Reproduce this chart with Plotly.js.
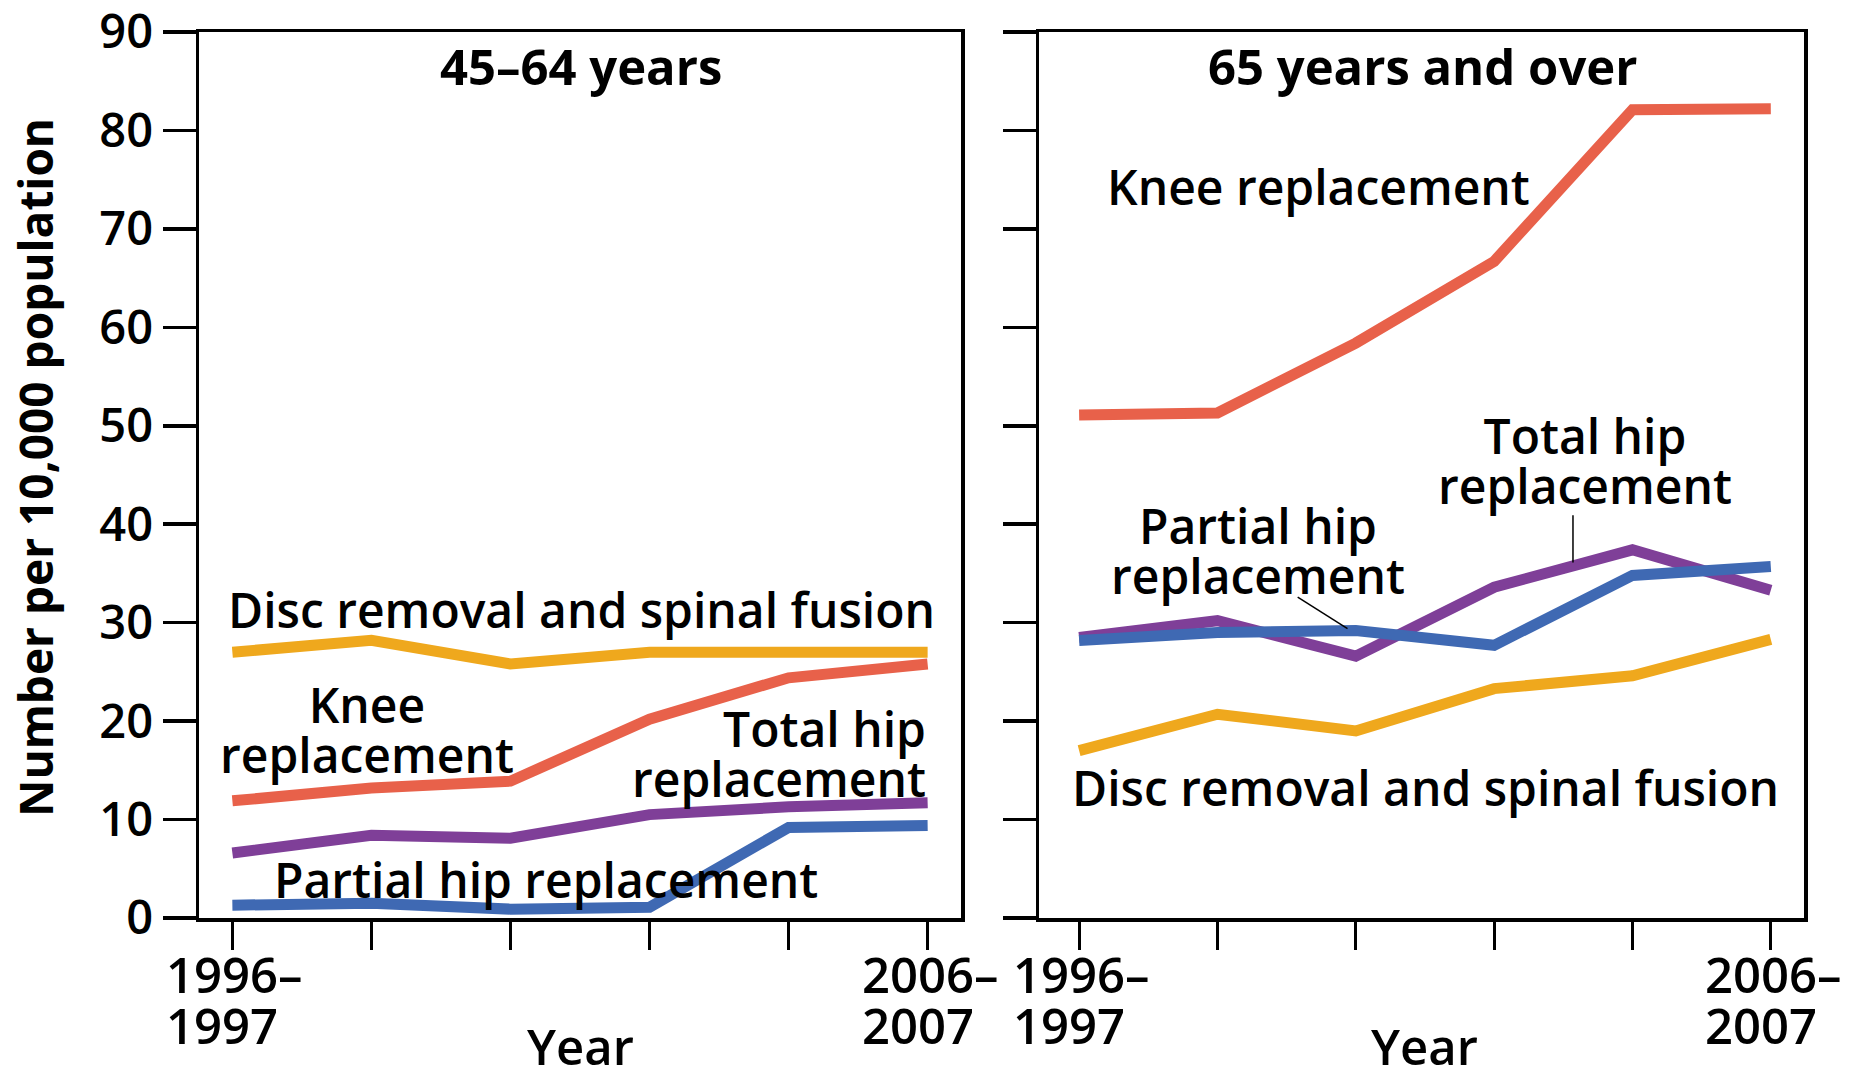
<!DOCTYPE html>
<html>
<head>
<meta charset="utf-8">
<script src="https://cdn.plot.ly/plotly-3.0.1.min.js"></script>
<style>html,body{margin:0;padding:0;background:#fff;}#chart{width:1855px;height:1069px;}</style>
</head>
<body>
<div id="chart"></div>
<script>
// ---- data ----
const periods = ['1996–1997','1998–1999','2000–2001','2002–2003','2004–2005','2006–2007'];
// tick labels shown only at the first and last period, as two lines each
const xTickLine1 = ['1996–','','','','','2006–'];
const xTickLine2 = ['1997','','','','','2007'];
const yTickVals = [0,10,20,30,40,50,60,70,80,90];
const panelTitles = ['45–64 years','65 years and over'];
const yTitle = 'Number per 10,000 population';
const xTitle = 'Year';

// 45–64 years
const disc45       = [27.0, 28.2, 25.8, 27.0, 27.0, 27.0];
const knee45       = [11.9, 13.2, 13.9, 20.2, 24.4, 25.8];
const totalHip45   = [6.6, 8.4, 8.1, 10.5, 11.3, 11.7];
const partialHip45 = [1.3, 1.5, 0.9, 1.1, 9.2, 9.4];
// 65 years and over
const disc65       = [17.0, 20.7, 19.0, 23.3, 24.6, 28.3];
const knee65       = [51.1, 51.3, 58.4, 66.7, 82.1, 82.2];
const totalHip65   = [28.5, 30.2, 26.6, 33.6, 37.4, 33.3];
const partialHip65 = [28.2, 29.0, 29.2, 27.7, 34.8, 35.7];

const colors = {disc:'#EFA81D', knee:'#E8614A', totalHip:'#7F3F98', partialHip:'#3F69B3'};
const W = 1855, H = 1069;
const LW = 11;
const FONT = 'Open Sans, sans-serif';

function tr(y, name, color, xa, ya){
  return {x: periods, y: y, name: name, type:'scatter', mode:'lines',
          line:{color: color, width: LW}, xaxis: xa, yaxis: ya, hoverinfo:'skip'};
}
const data = [
  tr(disc45,'Disc removal and spinal fusion',colors.disc,'x','y'),
  tr(knee45,'Knee replacement',colors.knee,'x','y'),
  tr(totalHip45,'Total hip replacement',colors.totalHip,'x','y'),
  tr(partialHip45,'Partial hip replacement',colors.partialHip,'x','y'),
  tr(disc65,'Disc removal and spinal fusion',colors.disc,'x2','y2'),
  tr(knee65,'Knee replacement',colors.knee,'x2','y2'),
  tr(totalHip65,'Total hip replacement',colors.totalHip,'x2','y2'),
  tr(partialHip65,'Partial hip replacement',colors.partialHip,'x2','y2'),
];

const px2x = p => p / W;
const py2y = p => 1 - p / H;

const axisCommon = {
  showline:true, linecolor:'#000', linewidth:3.5, mirror:true,
  showgrid:false, zeroline:false, ticks:'outside', tickcolor:'#000',
  fixedrange:true
};
const xCommon = Object.assign({}, axisCommon, {
  type:'category', tickvals: periods, ticktext: periods.map(()=> ''), showticklabels:false,
  ticklen:28, tickwidth:3
});
const yCommon = Object.assign({}, axisCommon, {
  range:[0,90], tickvals: yTickVals, ticklen:33, tickwidth:3.5, ticklabeloverflow:'allow'
});

const textFont = {family: FONT, size: 48, color:'#000', weight:600};
const titleFont = {family: FONT, size: 49, color:'#000', weight:700};
const tickFont = {family: FONT, size: 47, color:'#000', weight:600};
const xTickFont = {family: FONT, size: 49, color:'#000', weight:600};

// multi-line text with tighter line spacing: base font sets the line pitch,
// each line is drawn at the visible size
function lines(arr, visSize){
  return arr.map(t => '<span style="font-size:' + visSize + 'px">' + t + '</span>').join('<br>');
}

const ann = [];
// label placed by pixel position (px = anchor x, py = vertical middle)
function lab(text, px, py, opts){
  ann.push(Object.assign({text:text, x:px2x(px), y:py2y(py), xref:'paper', yref:'paper', showarrow:false,
    font:textFont, xanchor:'center', yanchor:'middle', align:'center'}, opts||{}));
}
const mlFont = Object.assign({}, textFont, {size: 38.5});
// panel titles
lab(panelTitles[0], 581, 66, {font:titleFont});
lab(panelTitles[1], 1422, 66, {font:titleFont});
// left panel labels
lab('Disc removal and spinal fusion', 581, 609);
lab(lines(['Knee','replacement'],48), 367, 729, {font:mlFont});
lab(lines(['Total hip','replacement'],48), 928, 753, {font:mlFont, xanchor:'right', align:'right'});
lab('Partial hip replacement', 546, 879);
// right panel labels
lab('Knee replacement', 1318, 186);
lab(lines(['Total hip','replacement'],48), 1585, 460, {font:mlFont});
lab(lines(['Partial hip','replacement'],48), 1258, 550, {font:mlFont});
lab('Disc removal and spinal fusion', 1425, 787);
// x tick labels: two left-aligned lines per labelled tick
['x','x2'].forEach(xr => {
  periods.forEach((p, i) => {
    if (!xTickLine1[i]) return;
    ann.push({text:lines([xTickLine1[i], xTickLine2[i]], 49), x:i, xref:xr, xshift:-68,
      y:py2y(999), yref:'paper', showarrow:false,
      xanchor:'left', yanchor:'middle', align:'left', font:Object.assign({}, xTickFont, {size:39})});
  });
});
// axis titles
ann.push({text:xTitle, x:2.5, xref:'x', y:py2y(1046), yref:'paper', showarrow:false,
  xanchor:'center', yanchor:'middle', font:xTickFont});
ann.push({text:xTitle, x:2.5, xref:'x2', y:py2y(1046), yref:'paper', showarrow:false,
  xanchor:'center', yanchor:'middle', font:xTickFont});
ann.push({text:yTitle, x:px2x(35), xref:'paper', y:py2y(468), yref:'paper', showarrow:false,
  textangle:-90, xanchor:'center', yanchor:'middle', font:{family:FONT, size:46, color:'#000', weight:700}});

const shapes = [
  {type:'line', xref:'x2', yref:'y2', x0:3.57, y0:40.9, x1:3.57, y1:36.1, line:{color:'#000', width:1.5}},
  {type:'line', xref:'x2', yref:'y2', x0:1.58, y0:32.6, x1:1.94, y1:29.4, line:{color:'#000', width:1.5}},
];

const layout = {
  width: W, height: H,
  margin:{l:0, r:0, t:0, b:0},
  paper_bgcolor:'#fff', plot_bgcolor:'#fff',
  showlegend:false,
  font:{family:FONT, color:'#000'},
  xaxis: Object.assign({}, xCommon, {domain:[px2x(199), px2x(961)], range:[-0.24, 5.24], anchor:'y'}),
  xaxis2: Object.assign({}, xCommon, {domain:[px2x(1039), px2x(1804)], range:[-0.29, 5.24], anchor:'y2'}),
  yaxis: Object.assign({}, yCommon, {domain:[py2y(918), py2y(32)], anchor:'x', tickfont:tickFont}),
  yaxis2: Object.assign({}, yCommon, {domain:[py2y(918), py2y(32)], anchor:'x2', showticklabels:false}),
  annotations: ann,
  shapes: shapes
};

Plotly.newPlot('chart', data, layout, {displayModeBar:false, staticPlot:true});
</script>
</body>
</html>
